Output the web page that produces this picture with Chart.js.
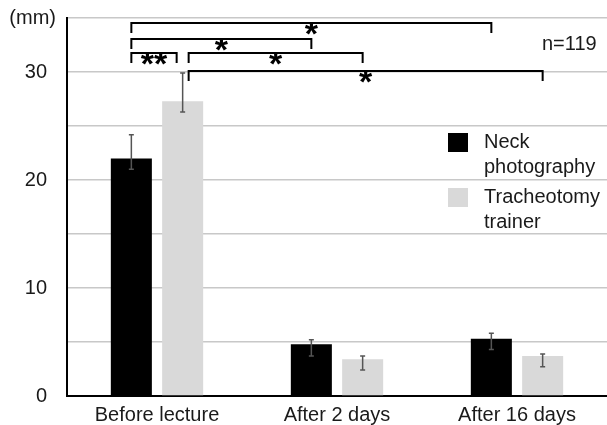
<!DOCTYPE html>
<html><head><meta charset="utf-8">
<script src="https://cdn.jsdelivr.net/npm/chart.js@4"></script>
<style>html,body{margin:0;padding:0;background:#fff}canvas{display:block}</style>
</head><body>
<canvas id="c" width="607" height="425"></canvas>
<script>
// ---- data ----
const categories = ['Before lecture', 'After 2 days', 'After 16 days'];
const seriesNames = [['Neck', 'photography'], ['Tracheotomy', 'trainer']];
const neckMean = [22.0, 4.8, 5.3];
const neckLow = [21.0, 3.7, 4.3];
const neckHigh = [24.2, 5.2, 5.8];
const trainerMean = [27.3, 3.4, 3.7];
const trainerLow = [26.3, 2.4, 2.7];
const trainerHigh = [29.9, 3.7, 3.9];
const yLabeledTicks = [0, 10, 20, 30];
const yUnit = '(mm)';
const sampleSize = 'n=119';
// significance brackets: endpoints as [seriesIndex, categoryIndex], level (mm), label
const sigFrom = [[0, 0], [0, 0], [0, 0], [1, 0], [1, 0]];
const sigTo = [[0, 2], [0, 1], [1, 0], [1, 1], [1, 2]];
const sigLevel = [34.5, 33.05, 31.75, 31.75, 30.1];
const sigLabel = ['*', '*', '**', '*', '*'];

// ---- style ----
const FONT = 'Liberation Sans, Arial, sans-serif';
const TEXT = '#1a1a1a';
const COLORS = ['#000000', '#d9d9d9'];
const lows = [neckLow, trainerLow];
const highs = [neckHigh, trainerHigh];

const errorBars = {
  id: 'errorBars',
  afterDatasetsDraw(chart) {
    const ctx = chart.ctx, y = chart.scales.y;
    ctx.save();
    ctx.strokeStyle = '#555';
    ctx.lineWidth = 1.5;
    chart.data.datasets.forEach((ds, di) => {
      chart.getDatasetMeta(di).data.forEach((el, i) => {
        const x = el.x, y1 = y.getPixelForValue(lows[di][i]), y2 = y.getPixelForValue(highs[di][i]);
        ctx.beginPath();
        ctx.moveTo(x, y1); ctx.lineTo(x, y2);
        ctx.moveTo(x - 2.5, y1); ctx.lineTo(x + 2.5, y1);
        ctx.moveTo(x - 2.5, y2); ctx.lineTo(x + 2.5, y2);
        ctx.stroke();
      });
    });
    ctx.restore();
  }
};

const brackets = {
  id: 'brackets',
  afterDraw(chart) {
    const ctx = chart.ctx, y = chart.scales.y;
    const nudgeKey = '1,0', NUDGE = 6, DROP = 10;
    const px = (ep, other) => {
      let x = chart.getDatasetMeta(ep[0]).data[ep[1]].x;
      if (ep.join(',') === nudgeKey) {
        const ox = chart.getDatasetMeta(other[0]).data[other[1]].x;
        x += ox > x ? NUDGE : -NUDGE;
      }
      return x;
    };
    ctx.save();
    ctx.strokeStyle = '#000';
    ctx.lineWidth = 2;
    ctx.fillStyle = '#000';
    sigFrom.forEach((f, k) => {
      const t = sigTo[k];
      const x1 = px(f, t), x2 = px(t, f);
      const yy = Math.round(y.getPixelForValue(sigLevel[k]));
      ctx.beginPath();
      ctx.moveTo(x1, yy + DROP); ctx.lineTo(x1, yy); ctx.lineTo(x2, yy); ctx.lineTo(x2, yy + DROP);
      ctx.stroke();
      ctx.font = 'bold 34px ' + FONT;
      ctx.textAlign = 'center';
      ctx.textBaseline = 'alphabetic';
      ctx.fillText(sigLabel[k], (x1 + x2) / 2, yy + 22);
    });
    ctx.restore();
  }
};

const annotations = {
  id: 'annotations',
  afterDraw(chart) {
    const ctx = chart.ctx, ca = chart.chartArea;
    ctx.save();
    ctx.fillStyle = TEXT;
    ctx.font = '20px ' + FONT;
    ctx.textBaseline = 'middle';
    ctx.textAlign = 'right';
    ctx.fillText(yUnit, 56, ca.top);
    ctx.textAlign = 'left';
    ctx.fillText(sampleSize, 542, 44);
    // legend
    const lx = 448, ly = [133, 188];
    chart.data.datasets.forEach((ds, i) => {
      ctx.fillStyle = ds.backgroundColor;
      ctx.fillRect(lx, ly[i], 20, 19);
      ctx.fillStyle = TEXT;
      ctx.font = '20px ' + FONT;
      seriesNames[i].forEach((line, j) => ctx.fillText(line, 484, ly[i] + 9 + j * 25));
    });
    ctx.restore();
  }
};

new Chart(document.getElementById('c'), {
  type: 'bar',
  data: {
    labels: categories,
    datasets: [
      { label: seriesNames[0].join(' '), data: neckMean, backgroundColor: COLORS[0] },
      { label: seriesNames[1].join(' '), data: trainerMean, backgroundColor: COLORS[1] }
    ]
  },
  options: {
    responsive: false,
    animation: false,
    devicePixelRatio: 1,
    categoryPercentage: 0.57,
    barPercentage: 0.8,
    layout: { padding: { top: 18, right: 0, bottom: 0, left: 0 } },
    plugins: { legend: { display: false }, tooltip: { enabled: false } },
    scales: {
      x: {
        grid: { display: false, drawTicks: false },
        border: { display: true, color: '#000', width: 2 },
        ticks: { color: TEXT, font: { family: FONT, size: 20 }, padding: 7 },
        afterFit(s) { s.height = 29; s.paddingLeft = 0; s.paddingRight = 0; }
      },
      y: {
        min: 0, max: 35,
        ticks: {
          stepSize: 5, color: TEXT, padding: 20,
          font: { family: FONT, size: 20 },
          callback: v => yLabeledTicks.includes(v) ? String(v) : ''
        },
        grid: { color: '#c8c8c8', lineWidth: 1.5, drawTicks: false },
        border: { display: true, color: '#000', width: 2 },
        afterFit(s) { s.width = 67; s.paddingTop = 0; s.paddingBottom = 0; }
      }
    }
  },
  plugins: [errorBars, brackets, annotations]
});
</script>
</body></html>
